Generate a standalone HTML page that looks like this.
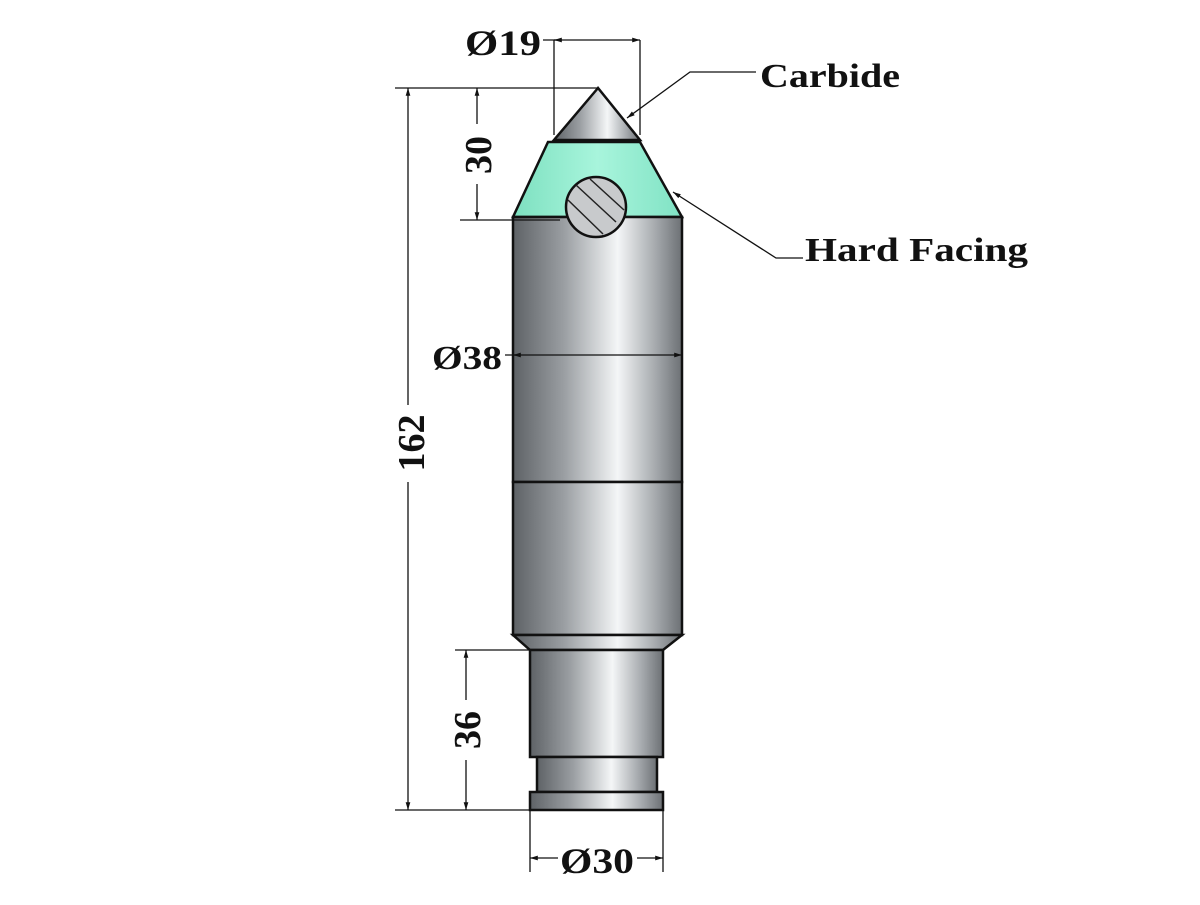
<!DOCTYPE html>
<html><head><style>
body{margin:0;background:#fff}
svg text{font-family:"Liberation Serif",serif;font-weight:bold;fill:#111}
</style></head><body>
<svg width="1200" height="900" viewBox="0 0 1200 900" xmlns="http://www.w3.org/2000/svg">
<defs>
<linearGradient id="m" x1="0" x2="1" y1="0" y2="0">
<stop offset="0" stop-color="#5e6266"/><stop offset="0.3" stop-color="#9a9ea2"/><stop offset="0.62" stop-color="#f4f6f7"/><stop offset="0.85" stop-color="#a3a7ab"/><stop offset="1" stop-color="#6c7074"/>
</linearGradient>
<linearGradient id="g" x1="0" x2="1"><stop offset="0" stop-color="#7de0c0"/><stop offset="0.5" stop-color="#a8f5dc"/><stop offset="1" stop-color="#80e2c4"/></linearGradient>
<marker id="a" viewBox="0 0 10 10" refX="10" refY="5" markerWidth="8" markerHeight="6" orient="auto-start-reverse"><path d="M0,2 L10,5 L0,8z" fill="#111"/></marker>
</defs>
<g stroke="#111" stroke-width="2.5">
<polygon points="598,88 554,140 640,140" fill="url(#m)"/>
<polygon points="548,142 640,142 682,217 513,217" fill="url(#g)"/>
<rect x="513" y="217" width="169" height="265" fill="url(#m)"/>
<rect x="513" y="482" width="169" height="153" fill="url(#m)"/>
<polygon points="513,635 682,635 663,650 530,650" fill="url(#m)"/>
<rect x="530" y="650" width="133" height="107" fill="url(#m)"/>
<rect x="537" y="757" width="120" height="35" fill="url(#m)"/>
<rect x="530" y="792" width="133" height="18" fill="url(#m)"/>
<circle cx="596" cy="207" r="30" fill="#c8cacc"/>
</g>
<g stroke="#222" stroke-width="1.5">
<line x1="576" y1="185" x2="616" y2="222"/><line x1="568" y1="200" x2="603" y2="234"/><line x1="590" y1="179" x2="624" y2="210"/>
</g>
<g stroke="#111" stroke-width="1.3" fill="none">
<line x1="395" y1="88" x2="598" y2="88"/><line x1="395" y1="810" x2="530" y2="810"/>
<line x1="408" y1="88" x2="408" y2="405" marker-start="url(#a)"/><line x1="408" y1="482" x2="408" y2="810" marker-end="url(#a)"/>
<line x1="460" y1="220" x2="560" y2="220"/>
<line x1="477" y1="88" x2="477" y2="124" marker-start="url(#a)"/><line x1="477" y1="184" x2="477" y2="220" marker-end="url(#a)"/>
<line x1="455" y1="650" x2="530" y2="650"/>
<line x1="466" y1="650" x2="466" y2="700" marker-start="url(#a)"/><line x1="466" y1="760" x2="466" y2="810" marker-end="url(#a)"/>
<line x1="530" y1="810" x2="530" y2="872"/><line x1="663" y1="810" x2="663" y2="872"/>
<line x1="530" y1="858" x2="558" y2="858" marker-start="url(#a)"/><line x1="637" y1="858" x2="663" y2="858" marker-end="url(#a)"/>
<line x1="554" y1="40" x2="554" y2="135"/><line x1="640" y1="40" x2="640" y2="135"/>
<line x1="543" y1="40" x2="640" y2="40" marker-end="url(#a)"/>
<line x1="554" y1="40" x2="562" y2="40" marker-start="url(#a)"/>
<line x1="505" y1="355" x2="682" y2="355" marker-end="url(#a)"/><line x1="513" y1="355" x2="520" y2="355" marker-start="url(#a)"/>
<polyline points="756,72 690,72 627,118" marker-end="url(#a)"/>
<polyline points="803,258 776,258 673,192" marker-end="url(#a)"/>
</g>
<text x="465" y="55" font-size="36" textLength="76" lengthAdjust="spacingAndGlyphs">Ø19</text>
<text x="760" y="87" font-size="34" textLength="140" lengthAdjust="spacingAndGlyphs">Carbide</text>
<text x="805" y="261" font-size="34" textLength="223" lengthAdjust="spacingAndGlyphs">Hard Facing</text>
<text x="432" y="369" font-size="34" textLength="70" lengthAdjust="spacingAndGlyphs">Ø38</text>
<text x="560" y="873" font-size="36" textLength="74" lengthAdjust="spacingAndGlyphs">Ø30</text>
<text transform="translate(424,443) rotate(-90)" font-size="38" text-anchor="middle">162</text>
<text transform="translate(491,155) rotate(-90)" font-size="38" text-anchor="middle">30</text>
<text transform="translate(480,730) rotate(-90)" font-size="38" text-anchor="middle">36</text>
</svg>
</body></html>
